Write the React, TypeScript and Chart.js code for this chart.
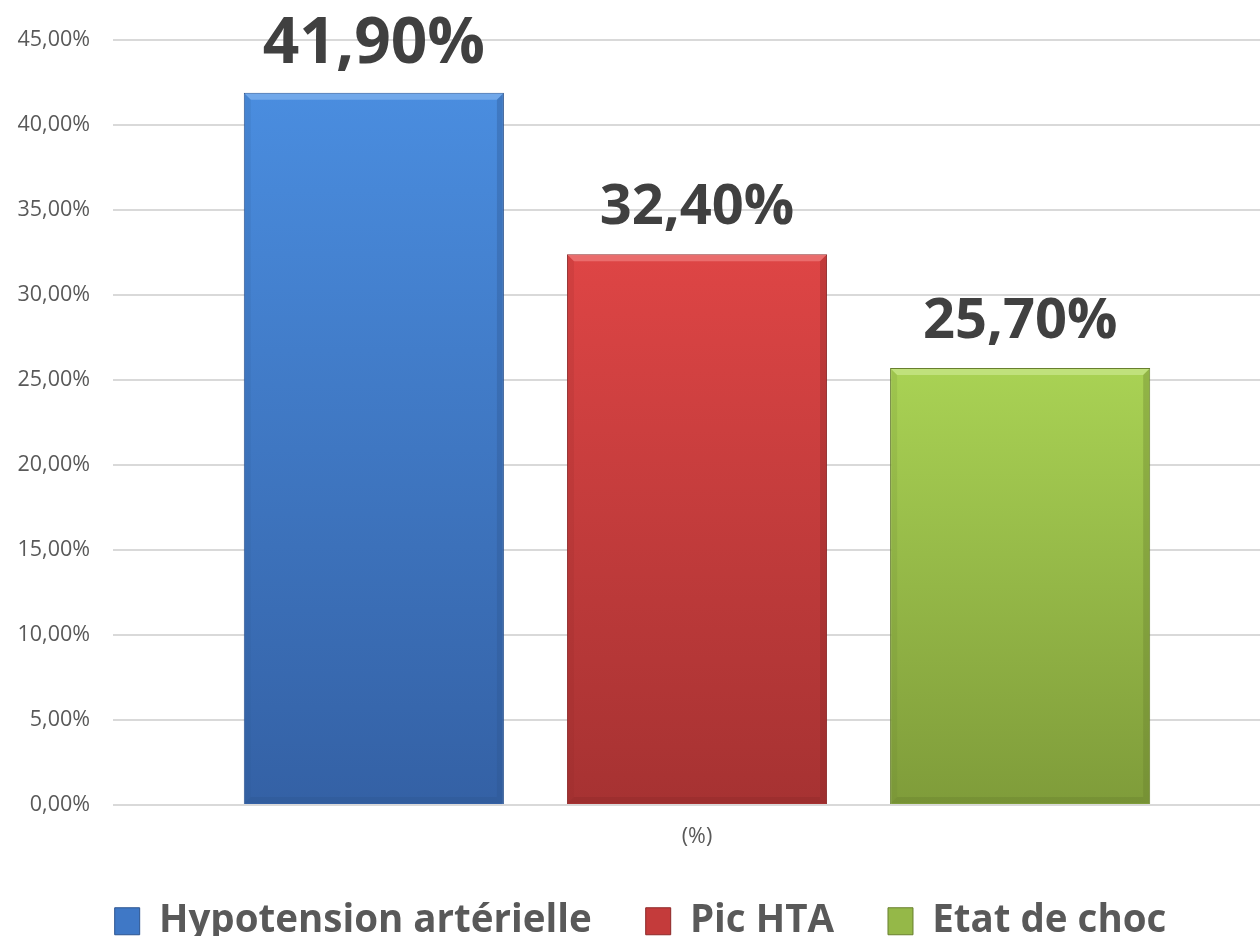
import React, { useEffect, useRef } from "react";
import { Chart, registerables } from "chart.js";

Chart.register(...registerables);

const categories = ["(%)"];
const seriesLabels = ["Hypotension artérielle", "Pic HTA", "Etat de choc"];
const seriesValues = [[41.9], [32.4], [25.7]];
const yTicks = [0, 5, 10, 15, 20, 25, 30, 35, 40, 45];

const topColors = ["#4a8ddf", "#de4545", "#a9d254"];
const bottomColors = ["#3461a5", "#a63232", "#7f9c3a"];
const edgeColors = ["#2d5590", "#8c2929", "#687f2e"];
const highlightColors = ["#7fb2ee", "#ee7a7a", "#c8e68a"];
const legendColors = ["#3f78c6", "#c43b3b", "#95b848"];
const valueLabelSizes = [64, 56, 56];

const fmt = (v: number) => v.toFixed(2).replace(".", ",") + "%";
const FONT = "'Open Sans', 'DejaVu Sans', sans-serif";

const labelPlugin = {
  id: "valueLabels",
  afterDatasetsDraw(chart: any) {
    const ctx = chart.ctx;
    ctx.save();
    chart.data.datasets.forEach((ds: any, i: number) => {
      const meta = chart.getDatasetMeta(i);
      meta.data.forEach((bar: any) => {
        const l = bar.x - bar.width / 2;
        const r = bar.x + bar.width / 2;
        const t = bar.y;
        const b = bar.base;
        const d = 7;
        ctx.fillStyle = highlightColors[i];
        ctx.globalAlpha = 0.75;
        ctx.beginPath();
        ctx.moveTo(l + 1, t + 1);
        ctx.lineTo(r - 1, t + 1);
        ctx.lineTo(r - d, t + d);
        ctx.lineTo(l + d, t + d);
        ctx.closePath();
        ctx.fill();
        ctx.fillStyle = edgeColors[i];
        ctx.globalAlpha = 0.35;
        ctx.beginPath();
        ctx.moveTo(r - 1, t + 1);
        ctx.lineTo(r - 1, b - 1);
        ctx.lineTo(r - d, b - d);
        ctx.lineTo(r - d, t + d);
        ctx.closePath();
        ctx.fill();
        ctx.beginPath();
        ctx.moveTo(l + 1, b - 1);
        ctx.lineTo(r - 1, b - 1);
        ctx.lineTo(r - d, b - d);
        ctx.lineTo(l + d, b - d);
        ctx.closePath();
        ctx.fill();
        ctx.globalAlpha = 0.15;
        ctx.beginPath();
        ctx.moveTo(l + 1, t + 1);
        ctx.lineTo(l + d, t + d);
        ctx.lineTo(l + d, b - d);
        ctx.lineTo(l + 1, b - 1);
        ctx.closePath();
        ctx.fill();
        ctx.globalAlpha = 1;
      });
    });
    ctx.fillStyle = "#404040";
    ctx.textAlign = "center";
    ctx.textBaseline = "alphabetic";
    chart.data.datasets.forEach((ds: any, i: number) => {
      const meta = chart.getDatasetMeta(i);
      ctx.font = `bold ${valueLabelSizes[i]}px ${FONT}`;
      meta.data.forEach((bar: any, j: number) => {
        ctx.fillText(fmt(ds.data[j]), bar.x, bar.y - 30);
      });
    });
    ctx.restore();
  },
};

const LEGEND_SHIFT = 7;
const legendFitPlugin = {
  id: "legendFit",
  beforeLayout(chart: any) {
    const lg = chart.legend;
    if (lg && !lg._patchedFit) {
      const orig = lg.fit.bind(lg);
      lg.fit = function () {
        orig();
        this.height = 88;
      };
      lg._patchedFit = true;
    }
  },
  afterLayout(chart: any) {
    const lg = chart.legend;
    if (lg) {
      lg.top -= LEGEND_SHIFT;
      lg.bottom -= LEGEND_SHIFT;
    }
  },
};

export default function App() {
  const ref = useRef<HTMLCanvasElement>(null);
  useEffect(() => {
    if (!ref.current) return;
    const chart = new Chart(ref.current, {
      type: "bar",
      data: {
        labels: categories,
        datasets: seriesLabels.map((label, i) => ({
          label,
          data: seriesValues[i],
          backgroundColor: (c: any) => {
            const ch = c.chart;
            if (!ch.chartArea || !ch.scales.y) return legendColors[i];
            const y = ch.scales.y;
            const top = y.getPixelForValue(c.raw ?? seriesValues[i][0]);
            const bottom = y.getPixelForValue(0);
            const g = ch.ctx.createLinearGradient(0, top, 0, bottom);
            g.addColorStop(0, topColors[i]);
            g.addColorStop(1, bottomColors[i]);
            return g;
          },
          borderColor: edgeColors[i],
          borderWidth: 1,
          categoryPercentage: 0.83,
          barPercentage: 0.805,
        })),
      },
      options: {
        animation: false,
        responsive: false,
        devicePixelRatio: 1,
        layout: { padding: { top: 40, right: 9, bottom: 0, left: 0 } },
        plugins: {
          tooltip: { enabled: false },
          legend: {
            position: "bottom",
            labels: {
              font: { family: FONT, size: 38.5, weight: "bold" },
              color: "#595959",
              boxWidth: 25,
              boxHeight: 27,
              padding: 54,
              generateLabels: () =>
                seriesLabels.map((t, i) => ({
                  text: t,
                  fillStyle: legendColors[i],
                  strokeStyle: edgeColors[i],
                  lineWidth: 1,
                  datasetIndex: i,
                  hidden: false,
                  fontColor: "#595959",
                })),
            },
          },
        },
        scales: {
          x: {
            grid: { display: false },
            border: { display: false },
            ticks: {
              font: { family: FONT, size: 21.5 },
              color: "#595959",
              padding: 11,
            },
            afterFit: (s: any) => {
              s.height = 50;
            },
          },
          y: {
            min: 0,
            max: 45,
            afterBuildTicks: (s: any) => {
              s.ticks = yTicks.map((v) => ({ value: v }));
            },
            grid: { color: "#d9d9d9", lineWidth: 2, drawTicks: false },
            border: { display: false },
            ticks: {
              font: { family: FONT, size: 21.5 },
              color: "#595959",
              padding: 23,
              callback: (v: any) => fmt(Number(v)),
            },
            afterFit: (s: any) => {
              s.width = 113;
            },
          },
        },
      },
      plugins: [legendFitPlugin, labelPlugin],
    });
    return () => chart.destroy();
  }, []);
  return (
    <div
      style={{
        position: "absolute",
        left: 0,
        top: 0,
        width: 1260,
        height: 943,
        overflow: "hidden",
        background: "#ffffff",
      }}
    >
      <canvas ref={ref} width={1290} height={943} style={{ width: 1290, height: 943, display: "block" }} />
    </div>
  );
}
